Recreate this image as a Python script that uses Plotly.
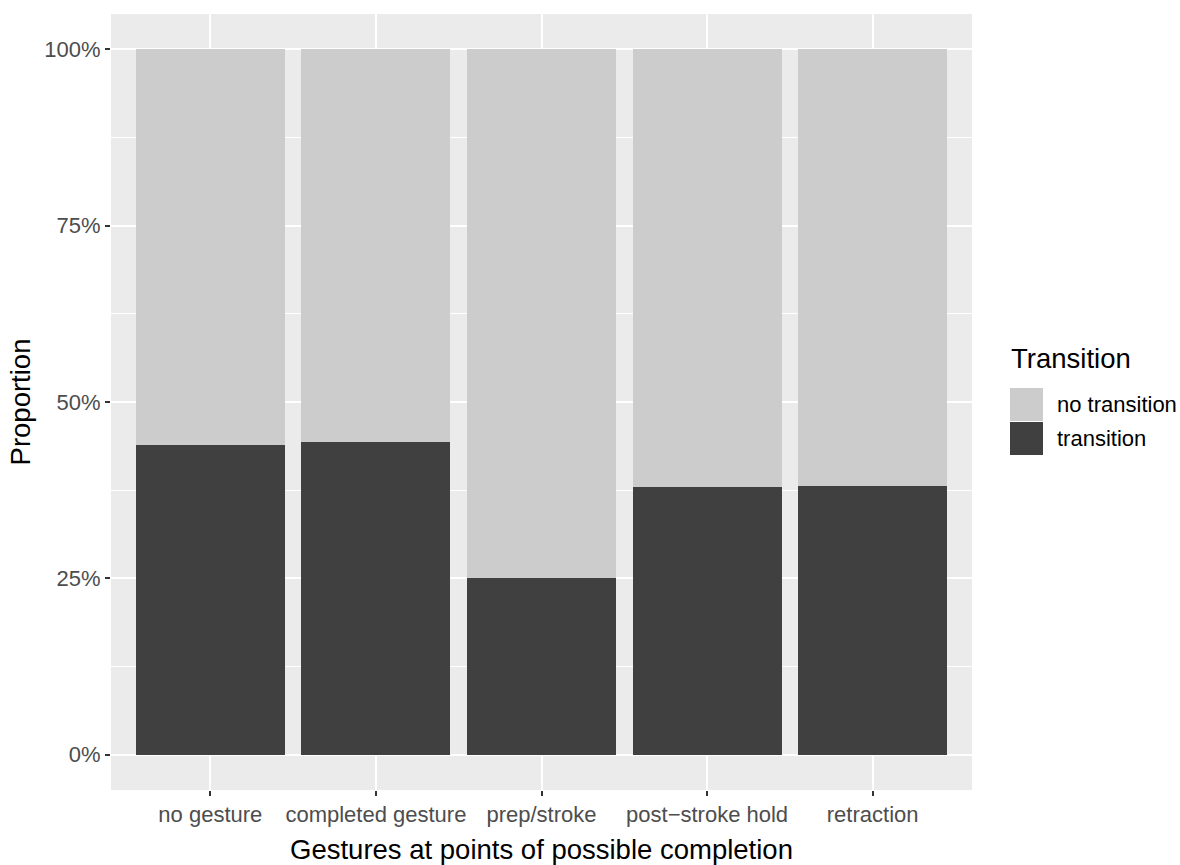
import plotly.graph_objects as go

categories = ["no gesture", "completed gesture", "prep/stroke", "post\u2212stroke hold", "retraction"]
transition = [0.439, 0.443, 0.250, 0.380, 0.381]
no_transition = [1 - v for v in transition]
y_tick_vals = [0, 0.25, 0.5, 0.75, 1.0]
y_tick_text = ["0%", "25%", "50%", "75%", "100%"]
y_minor_vals = [0.125, 0.375, 0.625, 0.875]
legend_title = "Transition"
legend_labels = ["no transition", "transition"]

COL_TR = "#404040"
COL_NO = "#CCCCCC"
FONT = "Liberation Sans, Arial, Helvetica, sans-serif"

W, H = 1180, 865
# panel in screen pixels (body margin removed below)
PX0, PX1, PY0, PY1 = 111, 972, 14, 790
L = PX0
T = PY0
R = W - PX1
B = H - PY1
PW = PX1 - PX0
PH = PY1 - PY0


def px(xs):
    return (xs - PX0) / PW


def py(ys):
    return (PY1 - ys) / PH


fig = go.Figure()
fig.add_trace(go.Bar(x=categories, y=transition, name=legend_labels[1],
                     marker=dict(color=COL_TR, line=dict(width=0)), width=0.9))
fig.add_trace(go.Bar(x=categories, y=no_transition, name=legend_labels[0],
                     marker=dict(color=COL_NO, line=dict(width=0)), width=0.9))

fig.update_layout(
    barmode="stack",
    width=W, height=H,
    margin=dict(l=L, r=R, t=T, b=B, pad=0, autoexpand=False),
    paper_bgcolor="white",
    plot_bgcolor="#EBEBEB",
    font=dict(family=FONT, color="#4D4D4D", size=22),
    showlegend=False,
)
fig.update_xaxes(
    range=[-0.6, 4.6],
    automargin=False,
    showgrid=True, gridcolor="white", gridwidth=1.5,
    ticks="outside", ticklen=5, tickcolor="#333333", tickwidth=1.5,
    tickfont=dict(size=22, color="#4D4D4D"),
    title=dict(text="Gestures at points of possible completion",
               font=dict(size=27.5, color="black"), standoff=13),
    zeroline=False, showline=False,
)
fig.update_yaxes(
    range=[-0.05, 1.05],
    automargin=False,
    tickvals=y_tick_vals, ticktext=y_tick_text,
    showgrid=True, gridcolor="white", gridwidth=1.5,
    minor=dict(tickvals=y_minor_vals, showgrid=True, gridcolor="white", gridwidth=0.8, ticks=""),
    ticks="outside", ticklen=5, tickcolor="#333333", tickwidth=1.5,
    tickfont=dict(size=22, color="#4D4D4D"),
    title=dict(text="Proportion", font=dict(size=27.5, color="black"), standoff=5),
    zeroline=False, showline=False,
)

# custom legend (ggplot style keys)
key_x0, key_x1 = 1010, 1043
keys = [(388, 421, COL_NO, legend_labels[0]), (422, 455, COL_TR, legend_labels[1])]
for y0, y1, col, lab in keys:
    fig.add_shape(type="rect", xref="paper", yref="paper",
                  x0=px(key_x0), x1=px(key_x1), y0=py(y1), y1=py(y0),
                  fillcolor=col, line=dict(width=0), layer="above")
    fig.add_annotation(xref="paper", yref="paper", x=px(1055), y=py((y0 + y1) / 2),
                       text=lab, showarrow=False, xanchor="left", yanchor="middle",
                       font=dict(size=22, color="black", family=FONT))
fig.add_annotation(xref="paper", yref="paper", x=px(1009), y=py(358),
                   text=legend_title, showarrow=False, xanchor="left", yanchor="middle",
                   font=dict(size=27.5, color="black", family=FONT))

fig.write_html(
    "out.html",
    config={"displayModeBar": False},
    post_script="document.body.style.margin='0';document.body.style.overflow='hidden';",
)
